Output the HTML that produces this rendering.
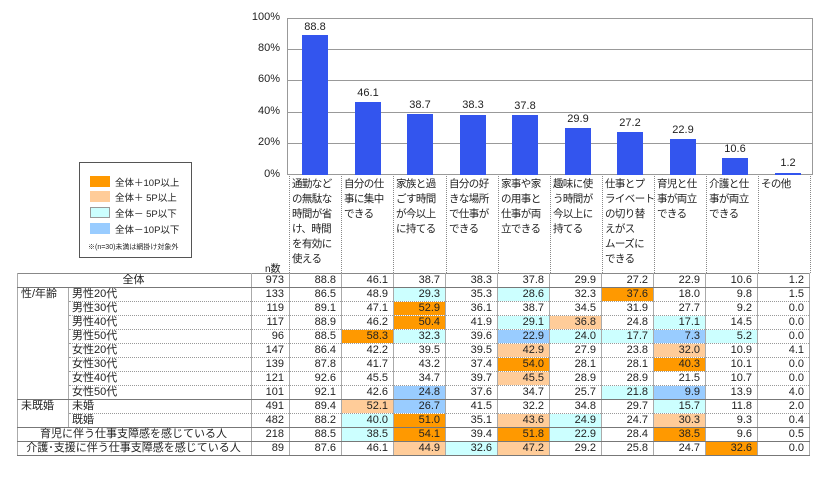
<!DOCTYPE html>
<html><head><meta charset="utf-8"><style>
*{margin:0;padding:0;box-sizing:border-box}
body{width:826px;height:477px;background:#fff;position:relative;overflow:hidden;font-family:"Liberation Sans","Noto Sans CJK JP",sans-serif;color:#222}
.a{position:absolute}
.yl{font-size:11px;width:30px;text-align:right;left:250px}
.gl{left:287px;width:526px;height:1px;background:#999}
.bar{background:#3355ee;width:26px}
.bl{font-size:11px;width:50px;text-align:center}
.hd{font-size:10.5px;line-height:15px;width:52px;top:176px;height:97px;border-left:1px dotted #888;padding:1px 0 0 2px;letter-spacing:-0.6px;white-space:nowrap;overflow:hidden}
table{position:absolute;left:17px;top:273px;border-collapse:collapse;table-layout:fixed;font-size:11px}
td{height:14px;line-height:13px;padding:0 5px 0 3px;border-left:1px solid #aaa;border-right:1px solid #aaa;border-bottom:1px dotted #999;white-space:nowrap;overflow:hidden}
td.n{text-align:right}
tr.s td{border-bottom:1px solid #777}
.O{background:#ff9900}.o{background:#ffcc99}.c{background:#ccffff}.b{background:#99ccff}
.lg{font-size:9.5px}
</style></head><body>
<div class="a yl" style="top:11px">100%</div>
<div class="a yl" style="top:42px">80%</div>
<div class="a yl" style="top:73px">60%</div>
<div class="a yl" style="top:105px">40%</div>
<div class="a yl" style="top:136px">20%</div>
<div class="a yl" style="top:168px">0%</div>
<div class="a" style="left:287px;top:18px;width:526px;height:157px;border:1px solid #999"></div>
<div class="a gl" style="top:49px"></div>
<div class="a gl" style="top:80px"></div>
<div class="a gl" style="top:112px"></div>
<div class="a gl" style="top:143px"></div>

<div class="a bar" style="left:302px;top:35px;height:140px"></div><div class="a bl" style="left:290px;top:21px">88.8</div>
<div class="a bar" style="left:355px;top:102px;height:73px"></div><div class="a bl" style="left:343px;top:87px">46.1</div>
<div class="a bar" style="left:407px;top:114px;height:61px"></div><div class="a bl" style="left:395px;top:99px">38.7</div>
<div class="a bar" style="left:460px;top:115px;height:60px"></div><div class="a bl" style="left:448px;top:99px">38.3</div>
<div class="a bar" style="left:512px;top:115px;height:60px"></div><div class="a bl" style="left:500px;top:100px">37.8</div>
<div class="a bar" style="left:565px;top:128px;height:47px"></div><div class="a bl" style="left:553px;top:113px">29.9</div>
<div class="a bar" style="left:617px;top:132px;height:43px"></div><div class="a bl" style="left:605px;top:117px">27.2</div>
<div class="a bar" style="left:670px;top:139px;height:36px"></div><div class="a bl" style="left:658px;top:124px">22.9</div>
<div class="a bar" style="left:722px;top:158px;height:17px"></div><div class="a bl" style="left:710px;top:143px">10.6</div>
<div class="a bar" style="left:775px;top:173px;height:2px"></div><div class="a bl" style="left:763px;top:157px">1.2</div>

<div class="a hd" style="left:289px">通勤など<br>の無駄な<br>時間が省<br>け、時間<br>を有効に<br>使える</div>
<div class="a hd" style="left:341px">自分の仕<br>事に集中<br>できる</div>
<div class="a hd" style="left:393px">家族と過<br>ごす時間<br>が今以上<br>に持てる</div>
<div class="a hd" style="left:446px">自分の好<br>きな場所<br>で仕事が<br>できる</div>
<div class="a hd" style="left:498px">家事や家<br>の用事と<br>仕事が両<br>立できる</div>
<div class="a hd" style="left:550px">趣味に使<br>う時間が<br>今以上に<br>持てる</div>
<div class="a hd" style="left:602px">仕事とプ<br>ライベート<br>の切り替<br>えがス<br>ムーズに<br>できる</div>
<div class="a hd" style="left:654px">育児と仕<br>事が両立<br>できる</div>
<div class="a hd" style="left:706px">介護と仕<br>事が両立<br>できる</div>
<div class="a hd" style="left:758px;border-right:1px dotted #888;width:53px">その他</div>
<div class="a" style="left:265px;top:260px;font-size:10px">n数</div>

<div class="a" style="left:79px;top:162px;width:113px;height:96px;border:1px solid #555;background:#fff"></div>
<div class="a O" style="left:90px;top:176px;width:20px;height:11px"></div><div class="a lg" style="left:115px;top:175px">全体＋10P以上</div>
<div class="a o" style="left:90px;top:191px;width:20px;height:11px"></div><div class="a lg" style="left:115px;top:190px">全体＋ 5P以上</div>
<div class="a c" style="left:90px;top:207px;width:20px;height:11px;border:1px solid #999"></div><div class="a lg" style="left:115px;top:206px">全体－ 5P以下</div>
<div class="a b" style="left:90px;top:223px;width:20px;height:11px"></div><div class="a lg" style="left:115px;top:222px">全体－10P以下</div>
<div class="a" style="left:88px;top:242px;font-size:7px">※(n=30)未満は網掛け対象外</div>

<table style="border:1px solid #888">
<colgroup><col style="width:51px"><col style="width:183px"><col style="width:38px"><col span="10" style="width:52px"></colgroup>
<tr class="s"><td colspan="2" style="text-align:center">全体</td><td class="n">973</td><td class="n">88.8</td><td class="n">46.1</td><td class="n">38.7</td><td class="n">38.3</td><td class="n">37.8</td><td class="n">29.9</td><td class="n">27.2</td><td class="n">22.9</td><td class="n">10.6</td><td class="n">1.2</td></tr>
<tr><td rowspan="8" style="vertical-align:top;border-bottom:1px solid #777">性/年齢</td><td>男性20代</td><td class="n">133</td><td class="n">86.5</td><td class="n">48.9</td><td class="n c">29.3</td><td class="n">35.3</td><td class="n c">28.6</td><td class="n">32.3</td><td class="n O">37.6</td><td class="n">18.0</td><td class="n">9.8</td><td class="n">1.5</td></tr>
<tr><td>男性30代</td><td class="n">119</td><td class="n">89.1</td><td class="n">47.1</td><td class="n O">52.9</td><td class="n">36.1</td><td class="n">38.7</td><td class="n">34.5</td><td class="n">31.9</td><td class="n">27.7</td><td class="n">9.2</td><td class="n">0.0</td></tr>
<tr><td>男性40代</td><td class="n">117</td><td class="n">88.9</td><td class="n">46.2</td><td class="n O">50.4</td><td class="n">41.9</td><td class="n c">29.1</td><td class="n o">36.8</td><td class="n">24.8</td><td class="n c">17.1</td><td class="n">14.5</td><td class="n">0.0</td></tr>
<tr><td>男性50代</td><td class="n">96</td><td class="n">88.5</td><td class="n O">58.3</td><td class="n c">32.3</td><td class="n">39.6</td><td class="n b">22.9</td><td class="n c">24.0</td><td class="n c">17.7</td><td class="n b">7.3</td><td class="n c">5.2</td><td class="n">0.0</td></tr>
<tr><td>女性20代</td><td class="n">147</td><td class="n">86.4</td><td class="n">42.2</td><td class="n">39.5</td><td class="n">39.5</td><td class="n o">42.9</td><td class="n">27.9</td><td class="n">23.8</td><td class="n o">32.0</td><td class="n">10.9</td><td class="n">4.1</td></tr>
<tr><td>女性30代</td><td class="n">139</td><td class="n">87.8</td><td class="n">41.7</td><td class="n">43.2</td><td class="n">37.4</td><td class="n O">54.0</td><td class="n">28.1</td><td class="n">28.1</td><td class="n O">40.3</td><td class="n">10.1</td><td class="n">0.0</td></tr>
<tr><td>女性40代</td><td class="n">121</td><td class="n">92.6</td><td class="n">45.5</td><td class="n">34.7</td><td class="n">39.7</td><td class="n o">45.5</td><td class="n">28.9</td><td class="n">28.9</td><td class="n">21.5</td><td class="n">10.7</td><td class="n">0.0</td></tr>
<tr class="s"><td>女性50代</td><td class="n">101</td><td class="n">92.1</td><td class="n">42.6</td><td class="n b">24.8</td><td class="n">37.6</td><td class="n">34.7</td><td class="n">25.7</td><td class="n c">21.8</td><td class="n b">9.9</td><td class="n">13.9</td><td class="n">4.0</td></tr>
<tr><td rowspan="2" style="vertical-align:top;border-bottom:1px solid #777">未既婚</td><td>未婚</td><td class="n">491</td><td class="n">89.4</td><td class="n o">52.1</td><td class="n b">26.7</td><td class="n">41.5</td><td class="n">32.2</td><td class="n">34.8</td><td class="n">29.7</td><td class="n c">15.7</td><td class="n">11.8</td><td class="n">2.0</td></tr>
<tr class="s"><td>既婚</td><td class="n">482</td><td class="n">88.2</td><td class="n c">40.0</td><td class="n O">51.0</td><td class="n">35.1</td><td class="n o">43.6</td><td class="n c">24.9</td><td class="n">24.7</td><td class="n o">30.3</td><td class="n">9.3</td><td class="n">0.4</td></tr>
<tr class="s"><td colspan="2" style="text-align:center">育児に伴う仕事支障感を感じている人</td><td class="n">218</td><td class="n">88.5</td><td class="n c">38.5</td><td class="n O">54.1</td><td class="n">39.4</td><td class="n O">51.8</td><td class="n c">22.9</td><td class="n">28.4</td><td class="n O">38.5</td><td class="n">9.6</td><td class="n">0.5</td></tr>
<tr class="s"><td colspan="2" style="text-align:center">介護･支援に伴う仕事支障感を感じている人</td><td class="n">89</td><td class="n">87.6</td><td class="n">46.1</td><td class="n o">44.9</td><td class="n c">32.6</td><td class="n o">47.2</td><td class="n">29.2</td><td class="n">25.8</td><td class="n">24.7</td><td class="n O">32.6</td><td class="n">0.0</td></tr>
</table>
</body></html>
